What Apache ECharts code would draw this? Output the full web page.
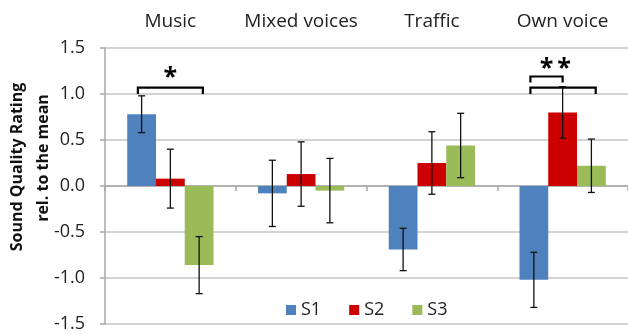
<!DOCTYPE html>
<html>
<head>
<meta charset="utf-8">
<script src="https://cdn.jsdelivr.net/npm/echarts@6/dist/echarts.min.js"></script>
<style>
  html, body { margin: 0; padding: 0; background: #fff; }
  #chart { width: 628px; height: 334px; }
</style>
</head>
<body>
<div id="chart"></div>
<script>
// Listening conditions and subject groups
const categories = ['Music', 'Mixed voices', 'Traffic', 'Own voice'];
const seriesNames = ['S1', 'S2', 'S3'];

// Mean rating relative to the overall mean, per condition
const s1Mean = [0.78, -0.08, -0.69, -1.02];
const s2Mean = [0.08, 0.13, 0.25, 0.80];
const s3Mean = [-0.86, -0.05, 0.44, 0.22];

// Error bar half-widths
const s1Err = [0.20, 0.36, 0.23, 0.30];
const s2Err = [0.32, 0.35, 0.34, 0.28];
const s3Err = [0.31, 0.35, 0.35, 0.29];

// Significance brackets: [condition, from bar slot, to bar slot, leg end, bracket level]
const brackets = [
  [0, -0.13, 2.13, 1.00, 1.07],
  [3, -0.12, 1.00, 1.125, 1.19],
  [3, -0.12, 2.15, 1.00, 1.07]
];
// Significance stars: [condition, bar slot, level]
const stars = [
  [0, 1.00, 1.20],
  [3, 0.44, 1.30],
  [3, 1.05, 1.30]
];

const means = [s1Mean, s2Mean, s3Mean];
const errs = [s1Err, s2Err, s3Err];
const colors = ['#4f81bd', '#cc0000', '#9bbb59'];
const CAT_GAP = 0.34;
const FONT = '"Open Sans", "Liberation Sans", sans-serif';

// x position of a bar slot (0..2, fractional allowed) inside a category band
function slotX(api, cat, slot) {
  const c = api.coord([cat, 0])[0];
  const w = api.size([1, 0])[0] * (1 - CAT_GAP) / 3;
  return c + (slot - 1) * w;
}

const errData = [];
means.forEach((m, s) => m.forEach((v, i) => errData.push([i, s, v - errs[s][i], v + errs[s][i]])));

const chart = echarts.init(document.getElementById('chart'));
chart.setOption({
  animation: false,
  textStyle: { fontFamily: FONT },
  color: colors,
  grid: { left: 105, top: 48, width: 526, height: 276 },
  legend: {
    data: seriesNames,
    icon: 'rect',
    itemWidth: 10,
    itemHeight: 10,
    itemGap: 28,
    left: 286,
    top: 301,
    padding: 0,
    textStyle: { fontSize: 18, color: '#222', fontFamily: FONT }
  },
  xAxis: [{
    type: 'category',
    data: categories,
    axisLine: { onZero: true, lineStyle: { color: '#a8a8a8', width: 1.5 } },
    axisTick: { show: true, length: 5, lineStyle: { color: '#a8a8a8', width: 1.5 } },
    axisLabel: { show: false },
    splitLine: { show: false }
  }, {
    type: 'category',
    position: 'top',
    data: categories,
    axisLine: { show: false },
    axisTick: { show: false },
    axisLabel: { interval: 0, hideOverlap: false, fontSize: 19, color: '#222', margin: 17, fontFamily: FONT }
  }],
  yAxis: {
    type: 'value',
    min: -1.5,
    max: 1.5,
    interval: 0.5,
    axisLine: { show: true, lineStyle: { color: '#a8a8a8', width: 1.5 } },
    axisTick: { show: true, length: 5, lineStyle: { color: '#a8a8a8', width: 1.5 } },
    splitLine: { lineStyle: { color: '#c4c4c4', width: 1.5 } },
    axisLabel: { fontSize: 18, color: '#222', margin: 20, fontFamily: FONT, formatter: v => v.toFixed(1) }
  },
  graphic: [{
    type: 'text',
    x: 17, y: 167,
    rotation: Math.PI / 2,
    style: { text: 'Sound Quality Rating', font: 'bold 16px ' + FONT, fill: '#111', align: 'center', verticalAlign: 'middle' }
  }, {
    type: 'text',
    x: 43, y: 158,
    rotation: Math.PI / 2,
    style: { text: 'rel. to the mean', font: 'bold 16px ' + FONT, fill: '#111', align: 'center', verticalAlign: 'middle' }
  }],
  series: [
    ...seriesNames.map((name, s) => ({
      name,
      type: 'bar',
      data: means[s],
      barGap: '0%',
      barCategoryGap: (CAT_GAP * 100) + '%',
      itemStyle: { color: colors[s] }
    })),
    {
      type: 'custom',
      name: 'error',
      data: errData,
      encode: { x: 0, y: [2, 3] },
      clip: false,
      z: 5,
      renderItem: (params, api) => {
        const cat = api.value(0), slot = api.value(1);
        const x = slotX(api, cat, slot);
        const yLo = api.coord([cat, api.value(2)])[1];
        const yHi = api.coord([cat, api.value(3)])[1];
        const cap = 3.5;
        const style = { stroke: '#111', lineWidth: 1.3 };
        return {
          type: 'group',
          children: [
            { type: 'line', shape: { x1: x, y1: yLo, x2: x, y2: yHi }, style },
            { type: 'line', shape: { x1: x - cap, y1: yHi, x2: x + cap, y2: yHi }, style },
            { type: 'line', shape: { x1: x - cap, y1: yLo, x2: x + cap, y2: yLo }, style }
          ]
        };
      }
    },
    {
      type: 'custom',
      name: 'brackets',
      data: brackets,
      encode: { x: 0, y: 4 },
      clip: false,
      z: 6,
      renderItem: (params, api) => {
        const cat = api.value(0);
        const x1 = slotX(api, cat, api.value(1));
        const x2 = slotX(api, cat, api.value(2));
        const yLeg = api.coord([cat, api.value(3)])[1];
        const yTop = api.coord([cat, api.value(4)])[1];
        return {
          type: 'polyline',
          shape: { points: [[x1, yLeg], [x1, yTop], [x2, yTop], [x2, yLeg]] },
          style: { stroke: '#000', lineWidth: 2.2, fill: null, lineJoin: 'miter' }
        };
      }
    },
    {
      type: 'custom',
      name: 'stars',
      data: stars,
      encode: { x: 0, y: 2 },
      clip: false,
      z: 6,
      renderItem: (params, api) => {
        const cat = api.value(0);
        const x = slotX(api, cat, api.value(1));
        const y = api.coord([cat, api.value(2)])[1];
        return {
          type: 'text',
          style: { text: '*', x, y: y + 2, font: 'bold 25px ' + FONT, fill: '#000', align: 'center', verticalAlign: 'middle' }
        };
      }
    }
  ]
});
</script>
</body>
</html>
